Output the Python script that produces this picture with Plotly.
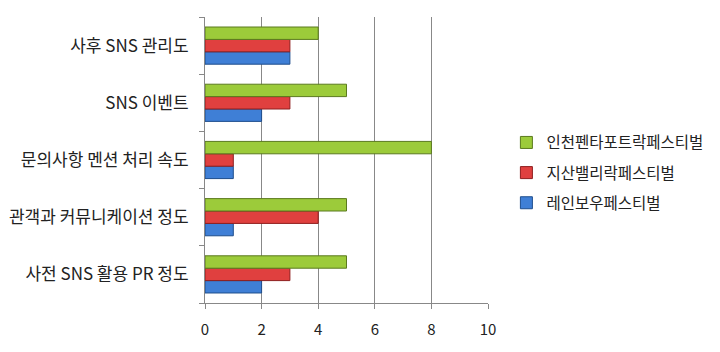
import plotly.graph_objects as go

categories = ["사전 SNS 활용 PR 정도", "관객과 커뮤니케이션 정도", "문의사항 멘션 처리 속도", "SNS 이벤트", "사후 SNS 관리도"]
series_names = ["레인보우페스티벌", "지산밸리락페스티벌", "인천펜타포트락페스티벌"]
rainbow = [2, 1, 1, 2, 3]
jisan = [3, 4, 1, 3, 3]
incheon = [5, 5, 8, 5, 4]
x_ticks = [0, 2, 4, 6, 8, 10]

fills = ["#3F7FD6", "#E0403F", "#9CCB3A"]
lines = ["#1F4E8C", "#8E1E1E", "#5B7A1E"]
ranks = [3, 2, 1]

fig = go.Figure()
for name, vals, fc, lc, rk in zip(series_names, [rainbow, jisan, incheon], fills, lines, ranks):
    fig.add_trace(go.Bar(
        y=categories, x=vals, name=name, orientation="h", legendgroup=name,
        legendrank=rk,
        marker=dict(color=fc, line=dict(color=lc, width=1)),
    ))

font_family = "Noto Sans CJK KR"
fig.update_layout(
    width=720, height=352,
    margin=dict(l=205, r=232, t=17, b=49, autoexpand=False),
    paper_bgcolor="white", plot_bgcolor="white",
    barmode="group", bargap=0.35, bargroupgap=0,
    font=dict(family=font_family, size=14, color="#222222"),
    legend=dict(
        x=1.065, xanchor="left", y=0.455, yanchor="middle",
        traceorder="grouped", font=dict(size=15.5, color="#222222"),
        itemwidth=30, tracegroupgap=7,
    ),
    xaxis=dict(
        range=[0, 10], tickvals=x_ticks, showgrid=True, gridcolor="#888888", gridwidth=1,
        showline=True, linecolor="#888888", ticks="outside", ticklen=5, tickcolor="#888888",
        zeroline=False, ticklabelstandoff=8, tickfont=dict(size=15),
    ),
    yaxis=dict(
        type="category", categoryorder="array", categoryarray=categories,
        showline=True, linecolor="#888888", ticks="outside", ticklen=5, tickcolor="#888888",
        tickson="boundaries", showgrid=False, ticklabelstandoff=12, tickfont=dict(size=17),
    ),
)

fig.write_html("out.html")
